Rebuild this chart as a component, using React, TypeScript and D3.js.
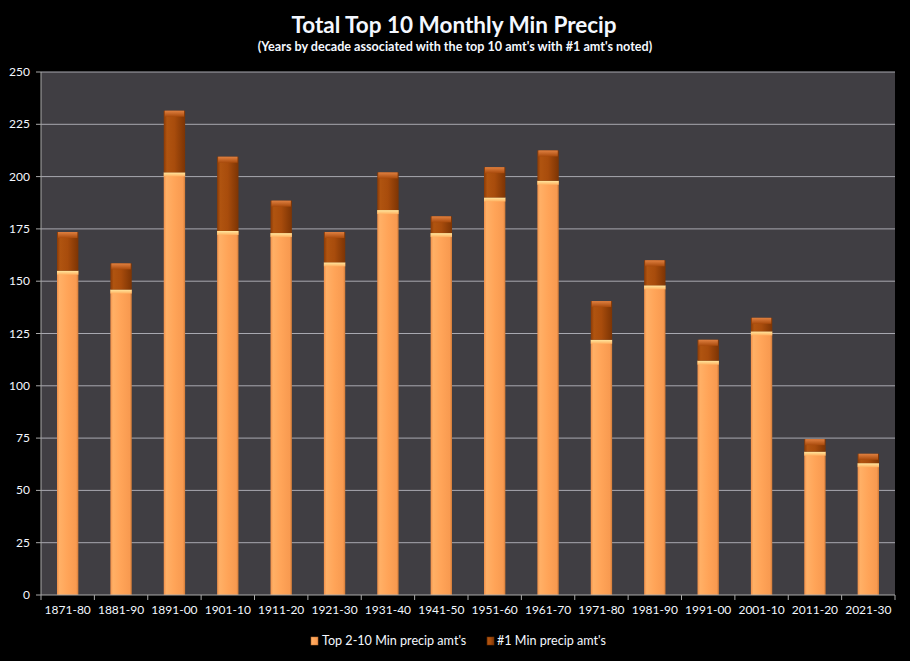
import React from "react";
import * as d3 from "d3";

const categories = ["1871-80","1881-90","1891-00","1901-10","1911-20","1921-30","1931-40","1941-50","1951-60","1961-70","1971-80","1981-90","1991-00","2001-10","2011-20","2021-30"];
const top2to10 = [155,146,202,174,173,159,184,173,190,198,122,148,112,126,68.5,63];
const number1 = [18.5,12.5,29.5,35.5,15.5,14.5,18,8,14.5,14.5,18.5,12,10,6.5,6,4.5];
const yTicks = [0,25,50,75,100,125,150,175,200,225,250];
const seriesNames = ["Top 2-10 Min precip amt's", "#1 Min precip amt's"];

const W = 910, H = 661;
const M = { left: 41, right: 895, top: 72, bottom: 595 };
const font = "Lato, 'Open Sans', sans-serif";
const textColor = "#f4f8ff";

export default function App() {
  const x = d3.scaleBand<string>().domain(categories).range([M.left, M.right]).paddingInner(0.6).paddingOuter(0.3);
  const band = d3.scaleBand<string>().domain(categories).range([M.left, M.right]);
  const y = d3.scaleLinear().domain([0, 250]).range([M.bottom, M.top]);
  const bw = x.bandwidth();

  return (
    <svg width={W} height={H} style={{ position: "absolute", left: 0, top: 0, display: "block", background: "#000" }}>
      <defs>
        <linearGradient id="gOr" x1="0" x2="1" y1="0" y2="0">
          <stop offset="0" stopColor="#f0904a" />
          <stop offset="0.12" stopColor="#ffb066" />
          <stop offset="0.5" stopColor="#ffa458" />
          <stop offset="0.9" stopColor="#f89a50" />
          <stop offset="1" stopColor="#d07a38" />
        </linearGradient>
        <linearGradient id="gBr" x1="0" x2="1" y1="0" y2="0">
          <stop offset="0" stopColor="#8a3a06" />
          <stop offset="0.15" stopColor="#b05410" />
          <stop offset="0.5" stopColor="#a84c0c" />
          <stop offset="1" stopColor="#7c3404" />
        </linearGradient>
        <linearGradient id="gOrTop" x1="0" x2="0" y1="0" y2="1">
          <stop offset="0" stopColor="#ffe8a0" />
          <stop offset="1" stopColor="#ffb060" />
        </linearGradient>
        <linearGradient id="gBrTop" x1="0" x2="0" y1="0" y2="1">
          <stop offset="0" stopColor="#e08040" />
          <stop offset="1" stopColor="#a84a0c" />
        </linearGradient>
      </defs>

      <text x={454} y={33} textAnchor="middle" fill={textColor} fontFamily={font} fontWeight="bold" fontSize={22.5}>Total Top 10 Monthly Min Precip</text>
      <text x={455} y={51} textAnchor="middle" fill={textColor} fontFamily={font} fontWeight="bold" fontSize={12.6}>(Years by decade associated  with the top 10 amt's with #1 amt's noted)</text>

      <rect x={M.left} y={M.top} width={M.right - M.left} height={M.bottom - M.top} fill="#403e43" />

      {yTicks.map((t) => (
        <g key={t}>
          {t > 0 && <line x1={M.left} x2={M.right} y1={y(t)} y2={y(t)} stroke="#a8a8b0" strokeWidth={1} />}
          <line x1={M.left - 5} x2={M.left} y1={y(t)} y2={y(t)} stroke="#a8a8a8" />
          <text x={30} y={y(t) + 4} textAnchor="end" fill={textColor} fontFamily={font} fontSize={12}>{t}</text>
        </g>
      ))}

      {categories.map((c, i) => {
        const x0 = x(c)!;
        const yb = y(top2to10[i]);
        const yt = y(top2to10[i] + number1[i]);
        return (
          <g key={c}>
            <rect x={x0} y={yb} width={bw} height={M.bottom - yb} fill="url(#gOr)" />
            <rect x={x0} y={yb} width={bw} height={4} fill="url(#gOrTop)" />
            <rect x={x0} y={yt} width={bw} height={yb - yt} fill="url(#gBr)" />
            <rect x={x0 + 1} y={yt} width={bw - 2} height={Math.min(6, yb - yt)} fill="url(#gBrTop)" />
            <text x={band(c)! + band.bandwidth() / 2} y={614} textAnchor="middle" fill={textColor} fontFamily={font} fontSize={12}>{c}</text>
          </g>
        );
      })}

      <line x1={M.left} x2={M.left} y1={M.top} y2={M.bottom} stroke="#a8a8a8" />
      <line x1={M.left} x2={M.right} y1={M.bottom} y2={M.bottom} stroke="#a8a8a8" />
      {categories.concat([""]).map((c, i) => {
        const xv = M.left + i * band.bandwidth();
        return <line key={i} x1={xv} x2={xv} y1={M.bottom} y2={M.bottom + 5} stroke="#a8a8a8" />;
      })}

      <g>
        <rect x={311} y={637} width={7} height={8} fill="url(#gOr)" stroke="#c07030" strokeWidth={0.5} />
        <text x={322} y={645} fill={textColor} fontFamily={font} fontSize={12.6}>{seriesNames[0]}</text>
        <rect x={487} y={637} width={7} height={8} fill="url(#gBr)" stroke="#703000" strokeWidth={0.5} />
        <text x={497} y={645} fill={textColor} fontFamily={font} fontSize={12.6}>{seriesNames[1]}</text>
      </g>
    </svg>
  );
}
